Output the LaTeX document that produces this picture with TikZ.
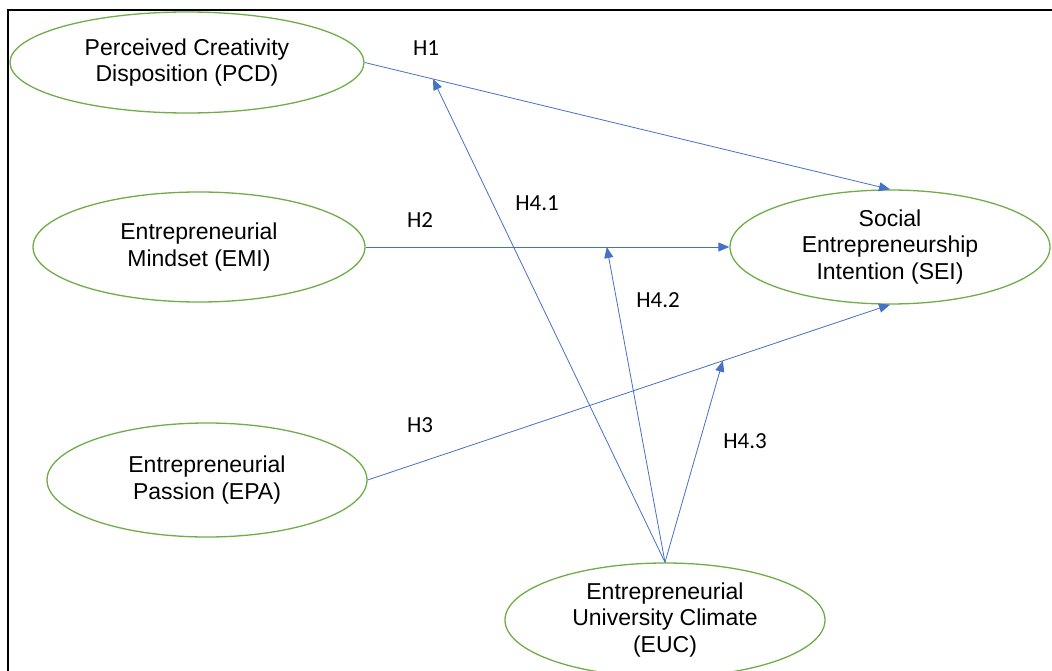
\documentclass[tikz,border=0pt]{standalone}
\usepackage{fontspec}
\newfontfamily\arialf{Liberation Sans}
\newfontfamily\calf{Carlito}
\usetikzlibrary{shapes.geometric,arrows.meta}
\definecolor{egreen}{HTML}{70AD47}
\definecolor{eblue}{HTML}{4472C4}
\begin{document}
\begin{tikzpicture}[x=1pt,y=-1pt,
  latent/.style={ellipse,draw=egreen,line width=1.3pt,inner sep=0pt,align=center,
    font=\arialf\fontsize{23}{26.5}\selectfont},
  hyp/.style={draw=eblue,line width=0.8pt,-{Triangle[length=11pt,width=9pt,fill=eblue]}},
  hlab/.style={font=\calf\fontsize{23}{26}\selectfont,inner sep=0pt},
  frame/.style={draw=black,line width=1.6pt}]
\useasboundingbox (0,0) rectangle (1052,671);
\clip (0,0) rectangle (1052,671);
\fill[white] (0,0) rectangle (1052,671);
\draw[frame] (8,700) -- (8,10) -- (1080,10);

\node[latent,minimum width=354pt,minimum height=101pt] (pcd) at (187,62.5) {Perceived Creativity\\Disposition (PCD)};
\node[latent,minimum width=332pt,minimum height=110pt] (emi) at (199,247) {Entrepreneurial\\Mindset (EMI)};
\node[latent,minimum width=320pt,minimum height=114pt] (epa) at (207,480) {Entrepreneurial\\Passion (EPA)};
\node[latent,minimum width=320pt,minimum height=114pt] (sei) at (890,247) {Social\\Entrepreneurship\\Intention (SEI)};
\node[latent,minimum width=320pt,minimum height=114pt] (euc) at (665,620) {Entrepreneurial\\University Climate\\(EUC)};

\draw[hyp] (pcd.east) -- coordinate[pos=0.13] (m1) (sei.north);
\draw[hyp] (emi.east) -- coordinate[pos=0.663] (m2) (sei.west);
\draw[hyp] (epa.east) -- coordinate[pos=0.68] (m3) (sei.south);
\draw[hyp] (euc.north) -- (m1);
\draw[hyp] (euc.north) -- (m2);
\draw[hyp] (euc.north) -- (m3);

\node[hlab] (h1) at (426,48) {H1};
\node[hlab] (h2) at (420,220) {H2};
\node[hlab] (h3) at (420,425) {H3};
\node[hlab] (h41) at (537,203) {H4.1};
\node[hlab] (h42) at (658,300) {H4.2};
\node[hlab] (h43) at (745,441) {H4.3};
\end{tikzpicture}
\end{document}
